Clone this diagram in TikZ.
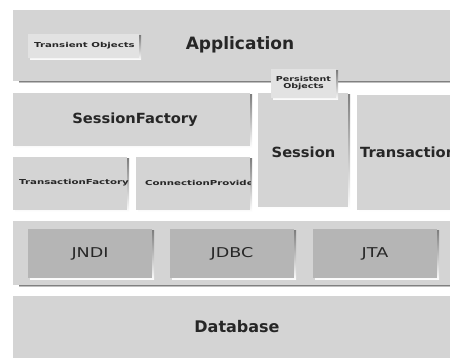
\documentclass[tikz,border=0pt]{standalone}
\usepackage{fontspec}
\setmainfont{DejaVu Sans}
\definecolor{layer}{HTML}{D4D4D4}
\definecolor{service}{HTML}{B5B5B5}
\definecolor{tag}{HTML}{E2E2E2}
\definecolor{shade}{HTML}{5A5A5A}
\newcommand{\stretchx}[2]{\scalebox{#1}[1]{#2}}
\tikzset{
  x=1pt, y=-1pt,
  lbl/.style={font=\bfseries\fontsize{14}{15}\selectfont, text=black!85, inner sep=0pt},
  svc/.style={font=\fontsize{13.5}{14}\selectfont, text=black!85, inner sep=0pt},
  small/.style={font=\bfseries\fontsize{6.8}{7.2}\selectfont, text=black!85, align=center, inner sep=0pt},
}
\begin{document}
\begin{tikzpicture}
\useasboundingbox (0,0) rectangle (450,358);
\clip (0,0) rectangle (450,358);
\fill[white] (0,0) rectangle (450,358);

% application layer
\fill[shade] (19,81) rectangle (460,83);
\fill[layer] (13,10) rectangle (460,81);
\fill[shade] (30,36) rectangle (141,60);
\fill[tag] (28,34) rectangle (139,58);
\node[small] (transient) at (84.5,46) {\stretchx{1.5}{Transient Objects}};
\node[lbl, font=\bfseries\fontsize{17}{18}\selectfont] (app) at (240,45) {Application};

% session-level components
\fill[shade] (15,95) rectangle (252,148);
\fill[layer] (13,93) rectangle (250,146);
\node[lbl] (sf) at (135,120) {\stretchx{1.05}{SessionFactory}};

\fill[shade] (260,95) rectangle (350,209);
\fill[layer] (258,93) rectangle (348,207);
\node[lbl] (session) at (303.5,152) {\stretchx{1.05}{Session}};

% the transaction block runs past the right edge
\fill[shade] (359,97) rectangle (460,212);
\fill[layer] (357,95) rectangle (460,210);
\node[lbl, anchor=west] (tx) at (360,152) {\stretchx{1.05}{Transaction}};

\fill[shade] (15,159) rectangle (129,212);
\fill[layer] (13,157) rectangle (127,210);
\node[small] (tf) at (74,183) {\stretchx{1.5}{TransactionFactory}};

\fill[shade] (138,159) rectangle (252,212);
\fill[layer] (136,157) rectangle (250,210);
\begin{scope}
  \clip (136,157) rectangle (250,210);
  \node[small, anchor=west] (cp) at (145,183) {\stretchx{1.5}{ConnectionProvider}};
\end{scope}

% persistent objects tag across the boundary
\fill[shade] (273,71) rectangle (338,100);
\fill[tag] (271,69) rectangle (336,98);
\node[small] (persist) at (303.5,83) {\stretchx{1.4}{Persistent}\\\stretchx{1.4}{Objects}};

% J2EE services
\fill[shade] (19,285) rectangle (460,287);
\fill[layer] (13,221) rectangle (460,285);
\foreach \x/\name/\txt in {28/jndi/JNDI, 170/jdbc/JDBC, 313/jta/JTA} {
  \fill[shade] (\x+2,231) rectangle (\x+126,280);
  \fill[service] (\x,229) rectangle (\x+124,278);
  \node[svc] (\name) at (\x+62,254) {\stretchx{1.3}{\txt}};
}

% database
\fill[layer] (13,296) rectangle (460,360);
\node[lbl, font=\bfseries\fontsize{16}{17}\selectfont] (db) at (237,327) {Database};
\end{tikzpicture}
\end{document}
